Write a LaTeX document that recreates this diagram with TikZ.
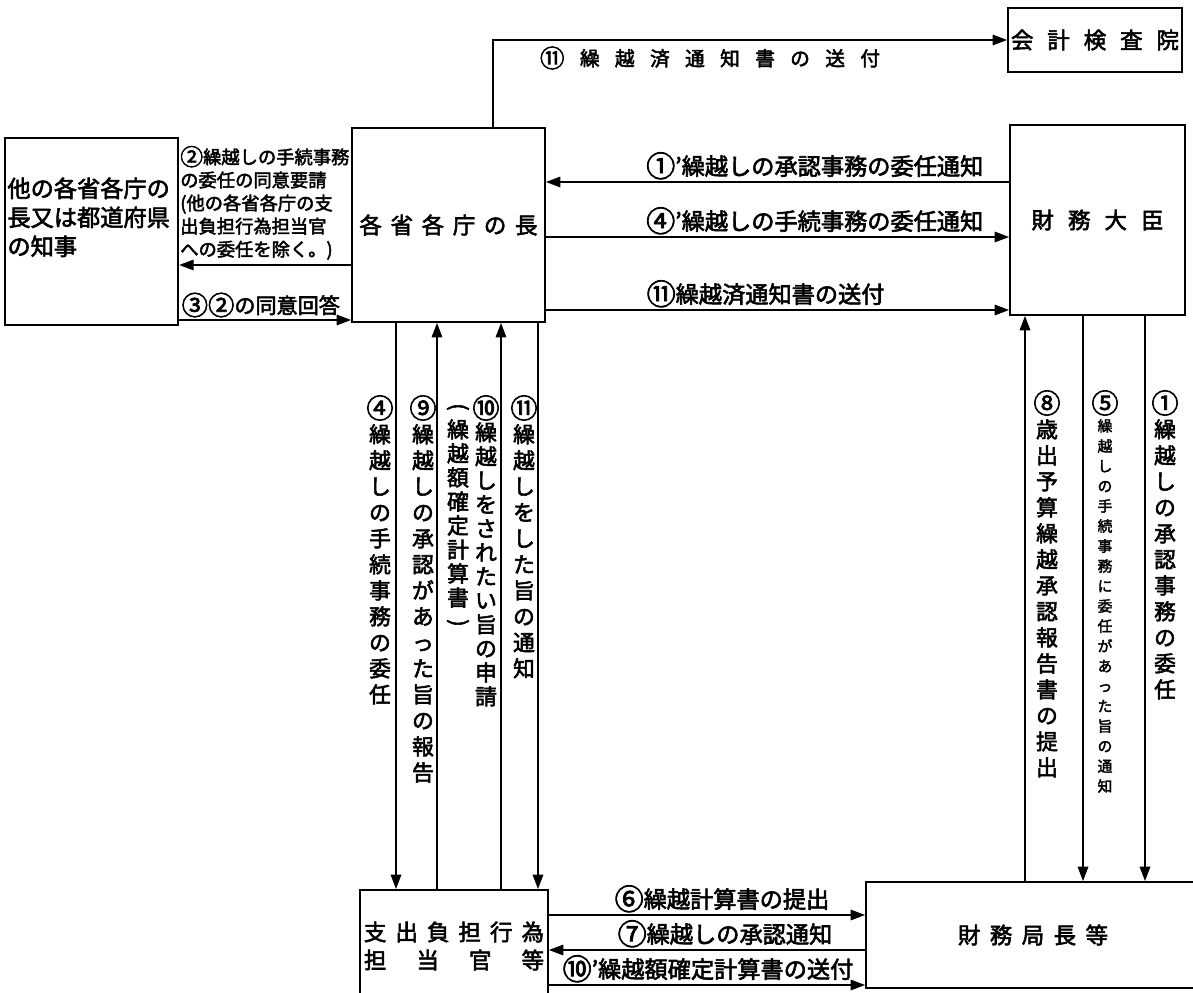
\documentclass[tikz,border=0pt]{standalone}
\usepackage{fontspec}
\usepackage{xcolor}
\usepackage{graphicx}
\setmainfont{Noto Sans CJK JP}[FakeBold=2.5]
\usetikzlibrary{arrows.meta}
\definecolor{ink}{HTML}{000000}
\definecolor{paper}{HTML}{FFFFFF}

% vertical text: one character per line
\makeatletter
\newcommand\tatetext[2]{\vtop{\baselineskip=#1\lineskiplimit=-20pt\relax
  \@tfor\tt@ch:=#2\do{\hbox to 1em{\hss\tt@ch\hss}}}}
\makeatother
\newcommand\maru[1]{\raisebox{-0.08em}{\scalebox{1.25}{#1}}}
\newcommand\tateparen[1]{\rotatebox[origin=c]{-90}{#1}}

\begin{document}
\begin{tikzpicture}[
        x=0.025cm, y=-0.025cm,
        box/.style={rectangle, draw=ink, line width=1.2pt, inner sep=2pt,
                    font=\fontsize{16}{20}\selectfont},
        arr/.style={-{Triangle[length=0.36cm, width=0.26cm]}, line width=1.2pt, draw=ink},
        lab/.style={font=\fontsize{16.5}{20}\selectfont, inner sep=1pt},
        tate/.style={font=\fontsize{15.5}{18}\selectfont, inner sep=0pt, anchor=north}
      ]
        \useasboundingbox[fill=paper] (0,0) rectangle (1193,993);
        \clip (0,0) rectangle (1193,993);
        % boxes
        \node[box, minimum width=4.325cm, minimum height=4.675cm, font=\fontsize{16.5}{20.6}\selectfont] (other) at (91.5,231.5)
              {\parbox[c][2.7cm][t]{4.2cm}{他の各省各庁の\\長又は都道府県\\の知事}};
        \node[box, minimum width=4.825cm, minimum height=4.85cm] (chief) at (448.5,225) {\makebox[4.45cm][s]{各 省 各 庁 の 長}};
        \node[box, minimum width=4.35cm, minimum height=1.6cm] (audit) at (1095,40) {\makebox[4.2cm][s]{会 計 検 査 院}};
        \node[box, minimum width=4.375cm, minimum height=4.75cm] (minister) at (1097.5,220) {\makebox[3.3cm][s]{財 務 大 臣}};
        \node[box, minimum width=4.7cm, minimum height=2.8cm, align=center] (officer) at (454,946)
              {\makebox[4.5cm][s]{支 出 負 担 行 為}\\\makebox[4.5cm][s]{担 当 官 等}};
        \node[box, minimum width=8.35cm, minimum height=2.65cm] (bureau) at (1033,935) {\makebox[3.75cm][s]{財 務 局 長 等}};

        % top: to the board of audit
        \draw[arr] (chief.north -| 493,0) |- (audit.west);
        \node[lab, font=\fontsize{14}{16}\selectfont] (t11) at (710,58) {\makebox[8.5cm][s]{\maru{⑪} 繰 越 済 通 知 書 の 送 付}};

        % chief <-> minister
        \draw[arr] (minister.west |- 0,182) -- (chief.east |- 0,182);
        \node[lab, anchor=south east] (l1p) at (985,181) {\maru{①}'繰越しの承認事務の委任通知};
        \draw[arr] (chief.east |- 0,237) -- (minister.west |- 0,237);
        \node[lab, anchor=south east] (l4p) at (985,236) {\maru{④}'繰越しの手続事務の委任通知};
        \draw[arr] (chief.east |- 0,310) -- (minister.west |- 0,310);
        \node[lab, anchor=south west] (l11b) at (645,309) {\maru{⑪}繰越済通知書の送付};

        % chief <-> other
        \draw[arr] (chief.west |- 0,265) -- (other.east |- 0,265);
        \node[lab, font=\fontsize{13}{16.4}\selectfont, align=left, anchor=south west, inner sep=0pt] (l2) at (180,260)
              {\maru{②}繰越しの手続事務\\の委任の同意要請\\(他の各省各庁の支\\出負担行為担当官\\への委任を除く。)};
        \draw[arr] (other.east |- 0,320) -- (chief.west |- 0,320);
        \node[lab, font=\fontsize{15}{18}\selectfont, anchor=south west] (l3) at (180,319) {\maru{③}\maru{②}の同意回答};

        % chief <-> officer
        \draw[arr] (chief.south -| 396,0) -- (officer.north -| 396,0);
        \draw[arr] (officer.north -| 437,0) -- (chief.south -| 437,0);
        \draw[arr] (officer.north -| 501,0) -- (chief.south -| 501,0);
        \draw[arr] (chief.south -| 538,0) -- (officer.north -| 538,0);
        \node[tate] (l4) at (380,395) {\tatetext{0.65cm}{{\maru{④}}繰越しの手続事務の委任}};
        \node[tate] (l9) at (423,395) {\tatetext{0.65cm}{{\maru{⑨}}繰越しの承認があった旨の報告}};
        \node[tate] (l10n) at (458,403) {\tatetext{0.6cm}{{\tateparen{(}}繰越額確定計算書{\tateparen{)}}}};
        \node[tate] (l10) at (486,395) {\tatetext{0.6cm}{{\maru{⑩}}繰越しをされたい旨の申請}};
        \node[tate] (l11) at (524,395) {\tatetext{0.65cm}{{\maru{⑪}}繰越しをした旨の通知}};

        % minister <-> bureau
        \draw[arr] (bureau.north -| 1025,0) -- (minister.south -| 1025,0);
        \draw[arr] (minister.south -| 1083,0) -- (bureau.north -| 1083,0);
        \draw[arr] (minister.south -| 1145,0) -- (bureau.north -| 1145,0);
        \node[tate] (l8) at (1047,390) {\tatetext{0.65cm}{{\maru{⑧}}歳出予算繰越承認報告書の提出}};
        \node[tate, font=\fontsize{10.5}{12}\selectfont] (l5) at (1105,390)
              {\tatetext{0.5cm}{{\fontsize{15.5}{18}\selectfont\maru{⑤}}繰越しの手続事務に委任があった旨の通知}};
        \node[tate] (l1) at (1165,390) {\tatetext{0.65cm}{{\maru{①}}繰越しの承認事務の委任}};

        % officer <-> bureau
        \draw[arr] (officer.east |- 0,915) -- (bureau.west |- 0,915);
        \node[lab, anchor=south] (l6) at (722,914) {\maru{⑥}繰越計算書の提出};
        \draw[arr] (bureau.west |- 0,950) -- (officer.east |- 0,950);
        \node[lab, anchor=south] (l7) at (725,949) {\maru{⑦}繰越しの承認通知};
        \draw[arr] (officer.east |- 0,985) -- (bureau.west |- 0,985);
        \node[lab, anchor=south] (l10p) at (708,984) {\maru{⑩}'繰越額確定計算書の送付};
      \end{tikzpicture}
\end{document}
